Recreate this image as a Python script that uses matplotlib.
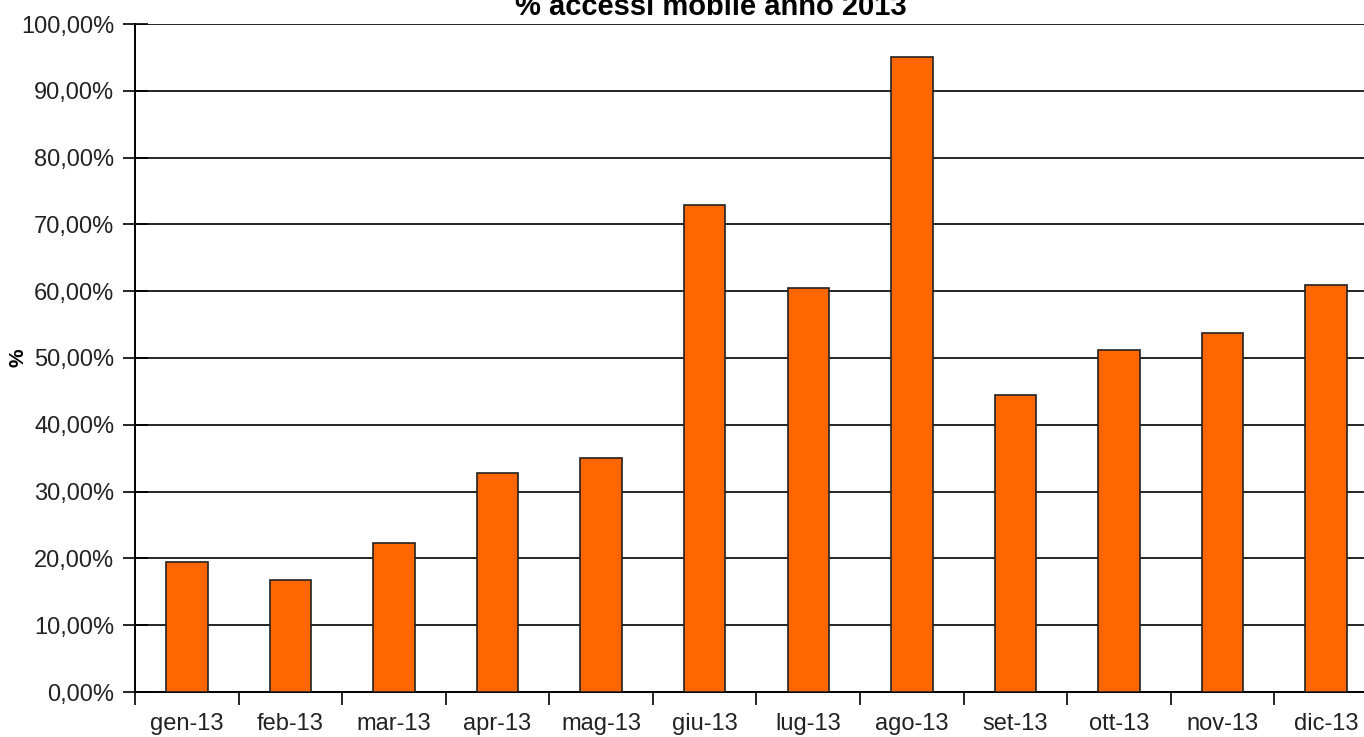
import matplotlib
matplotlib.use("Agg")
import matplotlib.pyplot as plt
from matplotlib.ticker import FuncFormatter, MultipleLocator

months = ["gen-13", "feb-13", "mar-13", "apr-13", "mag-13", "giu-13",
          "lug-13", "ago-13", "set-13", "ott-13", "nov-13", "dic-13"]
mobile_pct = [19.5, 16.8, 22.3, 32.8, 35.0, 72.9,
              60.5, 95.1, 44.5, 51.2, 53.7, 60.9]

plt.rcParams["font.family"] = ["Liberation Sans", "DejaVu Sans"]

W, H = 1364, 737
fig = plt.figure(figsize=(W / 100, H / 100), dpi=100)
# plot area runs past the right edge of the picture, as in the original
ax = fig.add_axes([135 / W, 1 - 692 / H, 1243 / W, (692 - 24) / H])

x = range(len(months))
ax.bar(x, mobile_pct, width=0.4, color="#FF6600", edgecolor="#222222",
       linewidth=1.2, zorder=3)

ax.set_xlim(-0.5, len(months) - 0.5)
ax.set_ylim(0, 100)
ax.yaxis.set_major_locator(MultipleLocator(10))
ax.yaxis.set_major_formatter(FuncFormatter(lambda v, _: f"{v:.2f}%".replace(".", ",")))
ax.grid(axis="y", color="black", linewidth=1.2, zorder=0)

ax.set_xticks([i + 0.5 for i in range(-1, len(months))])
ax.set_xticklabels([])
ax.set_xticks(list(x), minor=True)
ax.set_xticklabels(months, minor=True)
ax.tick_params(axis="x", which="major", direction="out", length=9, width=1.2, color="black")
ax.tick_params(axis="x", which="minor", length=0, pad=15, labelsize=17, labelcolor="#222222")
ax.tick_params(axis="y", direction="inout", length=18, width=1.2, pad=6,
               labelsize=17, labelcolor="#222222")

for side in ["top", "right"]:
    ax.spines[side].set_visible(False)
for side in ["left", "bottom"]:
    ax.spines[side].set_linewidth(1.4)
    ax.spines[side].set_color("black")

fig.text(18 / W, 1 - 358 / H, "%", rotation=90, ha="center", va="center",
         fontsize=15, fontweight="bold")
fig.text(711 / W, 1 - 7 / H, "% accessi mobile anno 2013", ha="center", va="center",
         fontsize=21, fontweight="bold")

fig.savefig("out.png", dpi=100)
